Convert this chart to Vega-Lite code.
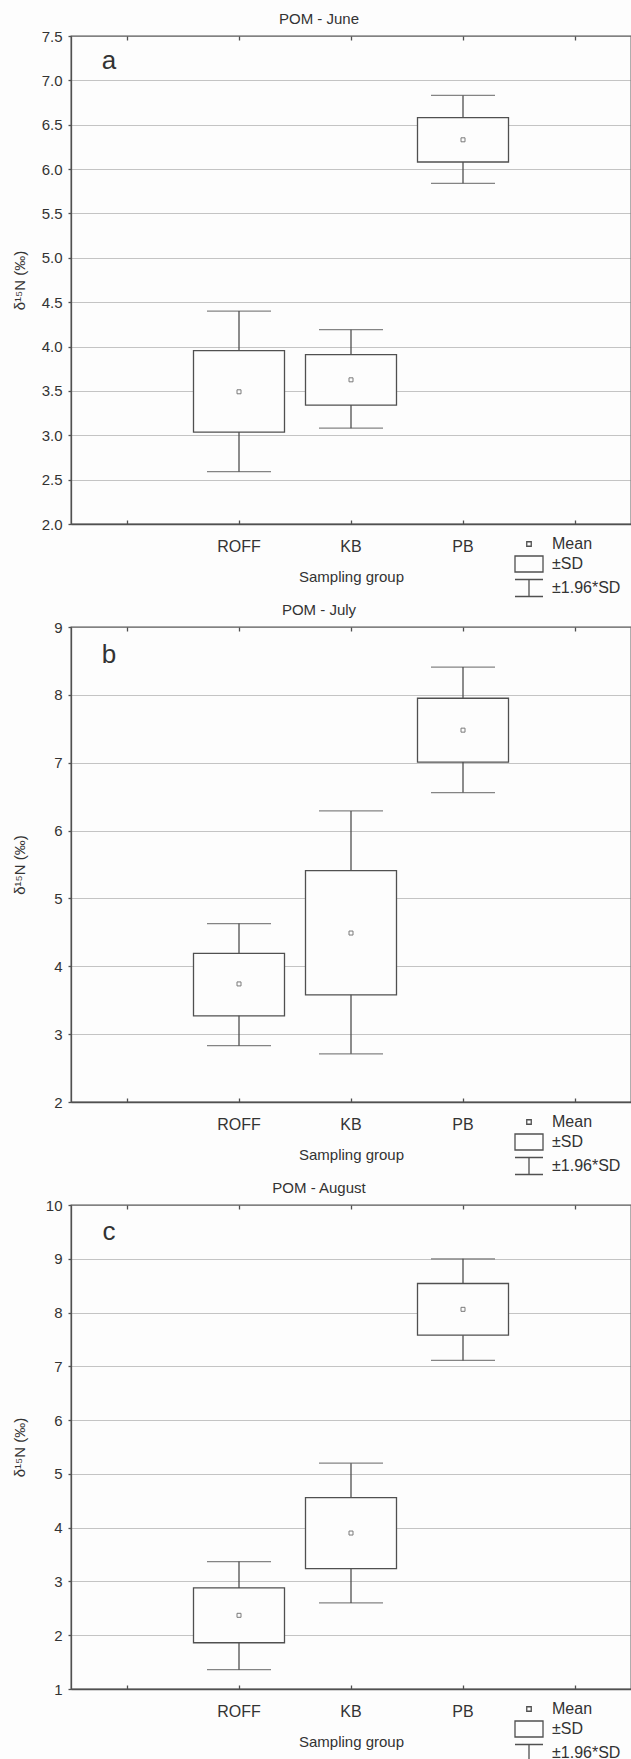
{
  "$schema": "https://vega.github.io/schema/vega-lite/v6.json",
  "padding": {"left": 11, "top": 10, "right": 0, "bottom": 70},
  "background": "#fdfdfd",
  "datasets": {
    "june": [
      {"group": "ROFF", "mean": 3.49, "sd_lo": 3.036, "sd_hi": 3.955, "ci_lo": 2.59, "ci_hi": 4.40},
      {"group": "KB", "mean": 3.625, "sd_lo": 3.34, "sd_hi": 3.91, "ci_lo": 3.08, "ci_hi": 4.19},
      {"group": "PB", "mean": 6.33, "sd_lo": 6.08, "sd_hi": 6.58, "ci_lo": 5.84, "ci_hi": 6.83}
    ],
    "july": [
      {"group": "ROFF", "mean": 3.74, "sd_lo": 3.27, "sd_hi": 4.19, "ci_lo": 2.83, "ci_hi": 4.63},
      {"group": "KB", "mean": 4.49, "sd_lo": 3.58, "sd_hi": 5.41, "ci_lo": 2.71, "ci_hi": 6.29},
      {"group": "PB", "mean": 7.48, "sd_lo": 7.01, "sd_hi": 7.95, "ci_lo": 6.56, "ci_hi": 8.41}
    ],
    "august": [
      {"group": "ROFF", "mean": 2.37, "sd_lo": 1.86, "sd_hi": 2.88, "ci_lo": 1.36, "ci_hi": 3.37},
      {"group": "KB", "mean": 3.90, "sd_lo": 3.24, "sd_hi": 4.56, "ci_lo": 2.60, "ci_hi": 5.20},
      {"group": "PB", "mean": 8.06, "sd_lo": 7.58, "sd_hi": 8.54, "ci_lo": 7.11, "ci_hi": 9.00}
    ],
    "legend": [
      {"item": "Mean"},
      {"item": "±SD"},
      {"item": "±1.96*SD"}
    ]
  },
  "vconcat": [
    {
      "width": 560, "height": 488,
      "title": {"text": "POM - June"},
      "data": {"name": "june"},
      "layer": [
        {
          "mark": {"type": "rule", "color": "#505050", "strokeWidth": 1.3},
          "encoding": {
            "x": {"field": "group", "type": "nominal",
              "scale": {"type": "band", "domain": ["s1", "ROFF", "KB", "PB", "s2"], "paddingInner": 0, "paddingOuter": 0},
              "axis": {"orient": "bottom", "title": "Sampling group", "labelExpr": "indexof(['ROFF','KB','PB'], datum.value) >= 0 ? datum.value : ''", "tickSize": -4, "labelPadding": 18, "titleY": 52, "titleBaseline": "middle", "labelAngle": 0, "grid": false}},
            "y": {"field": "ci_lo", "type": "quantitative",
              "scale": {"domain": [2, 7.5], "nice": false, "zero": false},
              "axis": {"orient": "left", "title": "δ¹⁵N (‰)", "values": [2, 2.5, 3, 3.5, 4, 4.5, 5, 5.5, 6, 6.5, 7, 7.5], "format": ".1f", "tickSize": 3, "labelPadding": 6, "grid": true, "titleX": -52, "titleBaseline": "middle"}},
            "y2": {"field": "ci_hi"}
          }
        },
        {
          "mark": {"type": "tick", "orient": "horizontal", "color": "#505050", "size": 64, "thickness": 1.3},
          "encoding": {
            "x": {"field": "group", "type": "nominal", "axis": {"orient": "top", "labels": false, "title": null, "tickSize": -4, "domain": false, "grid": false}},
            "y": {"field": "ci_lo", "type": "quantitative"}
          }
        },
        {
          "mark": {"type": "tick", "orient": "horizontal", "color": "#505050", "size": 64, "thickness": 1.3},
          "encoding": {
            "x": {"field": "group", "type": "nominal", "axis": null},
            "y": {"field": "ci_hi", "type": "quantitative"}
          }
        },
        {
          "mark": {"type": "bar", "width": {"band": 0.8125}, "fill": "#fdfdfd", "stroke": "#505050", "strokeWidth": 1.3},
          "encoding": {
            "x": {"field": "group", "type": "nominal", "axis": null},
            "y": {"field": "sd_lo", "type": "quantitative"},
            "y2": {"field": "sd_hi"}
          }
        },
        {
          "mark": {"type": "point", "shape": "square", "size": 16, "filled": true, "fill": "#fdfdfd", "stroke": "#444", "strokeWidth": 1},
          "encoding": {
            "x": {"field": "group", "type": "nominal", "axis": null},
            "y": {"field": "mean", "type": "quantitative"}
          }
        },
        {
          "data": {"values": [{"letter": "a", "group": "s1"}]},
          "mark": {"type": "text", "fontSize": 26, "color": "#333", "align": "center", "baseline": "alphabetic", "font": "Liberation Sans"},
          "encoding": {
            "x": {"field": "group", "type": "nominal", "bandPosition": 0.34, "axis": null},
            "y": {"datum": 7.125, "type": "quantitative"},
            "text": {"field": "letter"}
          }
        },
        {
          "data": {"name": "legend"},
          "mark": {"type": "point", "filled": false, "opacity": 0, "color": "#505050"},
          "encoding": {
            "shape": {"field": "item", "type": "nominal",
              "scale": {"domain": ["Mean", "±SD", "±1.96*SD"], "range": ["M-0.25,-0.25H0.25V0.25H-0.25Z", "M-1.556,-0.889H1.556V0.889H-1.556Z", "M-1.556,-0.944H1.556M0,-0.944V0.944M-1.556,0.944H1.556"]},
              "legend": {"orient": "none", "legendX": 448, "legendY": 498}}
          }
        }
      ]
    },
    {
      "width": 560, "height": 475,
      "title": {"text": "POM - July"},
      "data": {"name": "july"},
      "layer": [
        {
          "mark": {"type": "rule", "color": "#505050", "strokeWidth": 1.3},
          "encoding": {
            "x": {"field": "group", "type": "nominal",
              "scale": {"type": "band", "domain": ["s1", "ROFF", "KB", "PB", "s2"], "paddingInner": 0, "paddingOuter": 0},
              "axis": {"orient": "bottom", "title": "Sampling group", "labelExpr": "indexof(['ROFF','KB','PB'], datum.value) >= 0 ? datum.value : ''", "tickSize": -4, "labelPadding": 18, "titleY": 52, "titleBaseline": "middle", "labelAngle": 0, "grid": false}},
            "y": {"field": "ci_lo", "type": "quantitative",
              "scale": {"domain": [2, 9], "nice": false, "zero": false},
              "axis": {"orient": "left", "title": "δ¹⁵N (‰)", "values": [2, 3, 4, 5, 6, 7, 8, 9], "format": "d", "tickSize": 3, "labelPadding": 6, "grid": true, "titleX": -52, "titleBaseline": "middle"}},
            "y2": {"field": "ci_hi"}
          }
        },
        {
          "mark": {"type": "tick", "orient": "horizontal", "color": "#505050", "size": 64, "thickness": 1.3},
          "encoding": {
            "x": {"field": "group", "type": "nominal", "axis": {"orient": "top", "labels": false, "title": null, "tickSize": -4, "domain": false, "grid": false}},
            "y": {"field": "ci_lo", "type": "quantitative"}
          }
        },
        {
          "mark": {"type": "tick", "orient": "horizontal", "color": "#505050", "size": 64, "thickness": 1.3},
          "encoding": {
            "x": {"field": "group", "type": "nominal", "axis": null},
            "y": {"field": "ci_hi", "type": "quantitative"}
          }
        },
        {
          "mark": {"type": "bar", "width": {"band": 0.8125}, "fill": "#fdfdfd", "stroke": "#505050", "strokeWidth": 1.3},
          "encoding": {
            "x": {"field": "group", "type": "nominal", "axis": null},
            "y": {"field": "sd_lo", "type": "quantitative"},
            "y2": {"field": "sd_hi"}
          }
        },
        {
          "mark": {"type": "point", "shape": "square", "size": 16, "filled": true, "fill": "#fdfdfd", "stroke": "#444", "strokeWidth": 1},
          "encoding": {
            "x": {"field": "group", "type": "nominal", "axis": null},
            "y": {"field": "mean", "type": "quantitative"}
          }
        },
        {
          "data": {"values": [{"letter": "b", "group": "s1"}]},
          "mark": {"type": "text", "fontSize": 26, "color": "#333", "align": "center", "baseline": "alphabetic", "font": "Liberation Sans"},
          "encoding": {
            "x": {"field": "group", "type": "nominal", "bandPosition": 0.34, "axis": null},
            "y": {"datum": 8.475, "type": "quantitative"},
            "text": {"field": "letter"}
          }
        },
        {
          "data": {"name": "legend"},
          "mark": {"type": "point", "filled": false, "opacity": 0, "color": "#505050"},
          "encoding": {
            "shape": {"field": "item", "type": "nominal",
              "scale": {"domain": ["Mean", "±SD", "±1.96*SD"], "range": ["M-0.25,-0.25H0.25V0.25H-0.25Z", "M-1.556,-0.889H1.556V0.889H-1.556Z", "M-1.556,-0.944H1.556M0,-0.944V0.944M-1.556,0.944H1.556"]},
              "legend": {"orient": "none", "legendX": 448, "legendY": 485}}
          }
        }
      ]
    },
    {
      "width": 560, "height": 484,
      "title": {"text": "POM - August"},
      "data": {"name": "august"},
      "layer": [
        {
          "mark": {"type": "rule", "color": "#505050", "strokeWidth": 1.3},
          "encoding": {
            "x": {"field": "group", "type": "nominal",
              "scale": {"type": "band", "domain": ["s1", "ROFF", "KB", "PB", "s2"], "paddingInner": 0, "paddingOuter": 0},
              "axis": {"orient": "bottom", "title": "Sampling group", "labelExpr": "indexof(['ROFF','KB','PB'], datum.value) >= 0 ? datum.value : ''", "tickSize": -4, "labelPadding": 18, "titleY": 52, "titleBaseline": "middle", "labelAngle": 0, "grid": false}},
            "y": {"field": "ci_lo", "type": "quantitative",
              "scale": {"domain": [1, 10], "nice": false, "zero": false},
              "axis": {"orient": "left", "title": "δ¹⁵N (‰)", "values": [1, 2, 3, 4, 5, 6, 7, 8, 9, 10], "format": "d", "tickSize": 3, "labelPadding": 6, "grid": true, "titleX": -52, "titleBaseline": "middle"}},
            "y2": {"field": "ci_hi"}
          }
        },
        {
          "mark": {"type": "tick", "orient": "horizontal", "color": "#505050", "size": 64, "thickness": 1.3},
          "encoding": {
            "x": {"field": "group", "type": "nominal", "axis": {"orient": "top", "labels": false, "title": null, "tickSize": -4, "domain": false, "grid": false}},
            "y": {"field": "ci_lo", "type": "quantitative"}
          }
        },
        {
          "mark": {"type": "tick", "orient": "horizontal", "color": "#505050", "size": 64, "thickness": 1.3},
          "encoding": {
            "x": {"field": "group", "type": "nominal", "axis": null},
            "y": {"field": "ci_hi", "type": "quantitative"}
          }
        },
        {
          "mark": {"type": "bar", "width": {"band": 0.8125}, "fill": "#fdfdfd", "stroke": "#505050", "strokeWidth": 1.3},
          "encoding": {
            "x": {"field": "group", "type": "nominal", "axis": null},
            "y": {"field": "sd_lo", "type": "quantitative"},
            "y2": {"field": "sd_hi"}
          }
        },
        {
          "mark": {"type": "point", "shape": "square", "size": 16, "filled": true, "fill": "#fdfdfd", "stroke": "#444", "strokeWidth": 1},
          "encoding": {
            "x": {"field": "group", "type": "nominal", "axis": null},
            "y": {"field": "mean", "type": "quantitative"}
          }
        },
        {
          "data": {"values": [{"letter": "c", "group": "s1"}]},
          "mark": {"type": "text", "fontSize": 26, "color": "#333", "align": "center", "baseline": "alphabetic", "font": "Liberation Sans"},
          "encoding": {
            "x": {"field": "group", "type": "nominal", "bandPosition": 0.34, "axis": null},
            "y": {"datum": 9.355, "type": "quantitative"},
            "text": {"field": "letter"}
          }
        },
        {
          "data": {"name": "legend"},
          "mark": {"type": "point", "filled": false, "opacity": 0, "color": "#505050"},
          "encoding": {
            "shape": {"field": "item", "type": "nominal",
              "scale": {"domain": ["Mean", "±SD", "±1.96*SD"], "range": ["M-0.25,-0.25H0.25V0.25H-0.25Z", "M-1.556,-0.889H1.556V0.889H-1.556Z", "M-1.556,-0.944H1.556M0,-0.944V0.944M-1.556,0.944H1.556"]},
              "legend": {"orient": "none", "legendX": 448, "legendY": 494}}
          }
        }
      ]
    }
  ],
  "spacing": 103,
  "bounds": "flush",
  "resolve": {"scale": {"shape": "independent"}, "legend": {"shape": "independent"}},
  "config": {
    "font": "Liberation Sans",
    "view": {"stroke": "#505050", "strokeWidth": 1.3},
    "title": {"font": "Liberation Sans", "fontSize": 15, "fontWeight": "normal", "color": "#333", "anchor": "middle", "frame": "group", "dx": -32, "offset": 2.5, "baseline": "bottom"},
    "axis": {"labelFont": "Liberation Sans", "labelFontSize": 15, "labelColor": "#333", "titleFont": "Liberation Sans", "titleFontSize": 15, "titleFontWeight": "normal", "titleColor": "#333", "domainColor": "#505050", "domainWidth": 1.3, "tickColor": "#505050", "tickWidth": 1.3, "gridColor": "#8a8a8a", "gridDash": [1, 1], "gridWidth": 1},
    "axisX": {"labelFontSize": 16},
    "legend": {"title": null, "symbolSize": 324, "symbolStrokeWidth": 1.3, "symbolStrokeColor": "#505050", "symbolFillColor": "transparent", "symbolOpacity": 1, "labelFont": "Liberation Sans", "labelFontSize": 16, "labelColor": "#333", "labelOffset": 13, "rowPadding": 1, "padding": 0}
  }
}
